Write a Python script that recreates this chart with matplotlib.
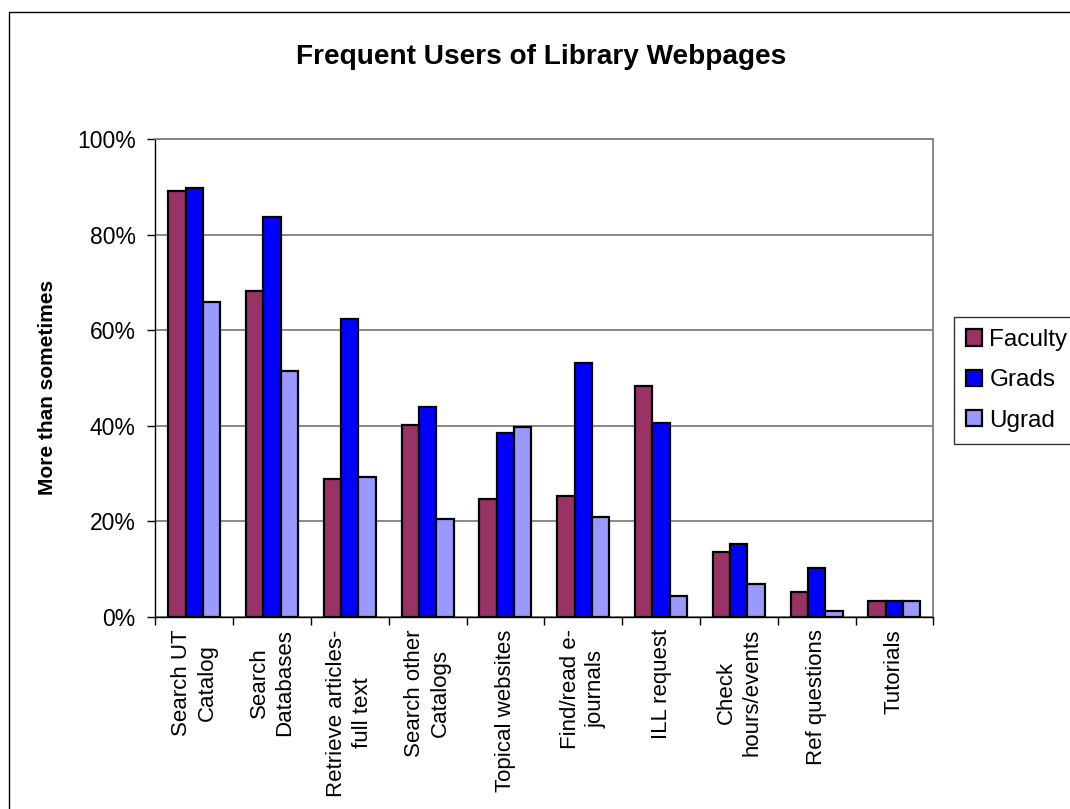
import numpy
import matplotlib
matplotlib.use("Agg")
import matplotlib.pyplot as plt
from matplotlib.patches import Rectangle
from matplotlib.ticker import PercentFormatter

categories = [
    "Search UT\nCatalog",
    "Search\nDatabases",
    "Retrieve articles-\nfull text",
    "Search other\nCatalogs",
    "Topical websites",
    "Find/read e-\njournals",
    "ILL request",
    "Check\nhours/events",
    "Ref questions",
    "Tutorials",
]
faculty = [89.2, 68.3, 28.9, 40.2, 24.6, 25.3, 48.3, 13.6, 5.2, 3.2]
grads = [89.7, 83.7, 62.3, 43.9, 38.5, 53.1, 40.6, 15.3, 10.1, 3.2]
ugrad = [65.9, 51.5, 29.3, 20.5, 39.8, 20.9, 4.4, 6.9, 1.2, 3.2]

series = [("Faculty", faculty, "#993366"),
          ("Grads", grads, "#0000FF"),
          ("Ugrad", ugrad, "#9999FF")]

plt.rcParams["font.family"] = ["Liberation Sans", "DejaVu Sans"]

W, H = 1070, 809
fig = plt.figure(figsize=(W / 100, H / 100), dpi=100)
ax = fig.add_axes([155.3 / W, 1 - 616.7 / H, 778 / W, 477.4 / H])

x = numpy.arange(len(categories))
w = 1 / 4.5
for i, (name, vals, color) in enumerate(series):
    ax.bar(x + (i - 1) * w, vals, width=w, color=color, edgecolor="black",
           linewidth=1.6, label=name, zorder=3)

ax.set_xlim(-0.5, len(categories) - 0.5)
ax.set_ylim(0, 100)
ax.set_yticks(numpy.arange(0, 101, 20))
ax.yaxis.set_major_formatter(PercentFormatter(decimals=0))
ax.yaxis.grid(True, color="#808080", linewidth=1.3, zorder=0)

# category labels sit between the boundary ticks
ax.set_xticks(numpy.arange(-0.5, len(categories), 1.0))
ax.set_xticklabels([])
ax.set_xticks(x, minor=True)
ax.set_xticklabels(categories, minor=True, rotation=90, ha="center",
                   va="top", multialignment="center", fontsize=16,
                   linespacing=1.3)
ax.tick_params(axis="x", which="minor", length=0, pad=9)
ax.tick_params(axis="x", which="major", length=6, width=1, direction="out")
ax.tick_params(axis="y", length=6, width=1, direction="out", labelsize=16.5, pad=8)

for side in ("top", "right"):
    ax.spines[side].set_color("#808080")
    ax.spines[side].set_linewidth(1.3)
for side in ("left", "bottom"):
    ax.spines[side].set_color("black")
    ax.spines[side].set_linewidth(1.0)

ax.set_ylabel("More than sometimes", fontsize=15, fontweight="bold")
ax.yaxis.set_label_coords((57 - 155.3) / 778, 0.48)
fig.text(541.5 / W, 1 - 57 / H, "Frequent Users of Library Webpages",
         ha="center", va="center", fontsize=20.2, fontweight="bold")

leg = fig.legend(loc="upper left", bbox_to_anchor=(954 / W, 1 - 317 / H),
                 fontsize=17.5, frameon=True, fancybox=False, handlelength=0.66,
                 handleheight=0.66, handletextpad=0.3, labelspacing=0.75,
                 borderpad=0.5, borderaxespad=0)
leg.get_frame().set_edgecolor("black")
leg.get_frame().set_linewidth(1.0)

# outer chart-area frame, right and bottom edges run off the canvas
fig.patches.append(Rectangle((9 / W, -0.1), 1.2, 1.1 - 12 / H,
                             transform=fig.transFigure, fill=False,
                             edgecolor="black", linewidth=1.0))

fig.savefig("out.png", dpi=100)
